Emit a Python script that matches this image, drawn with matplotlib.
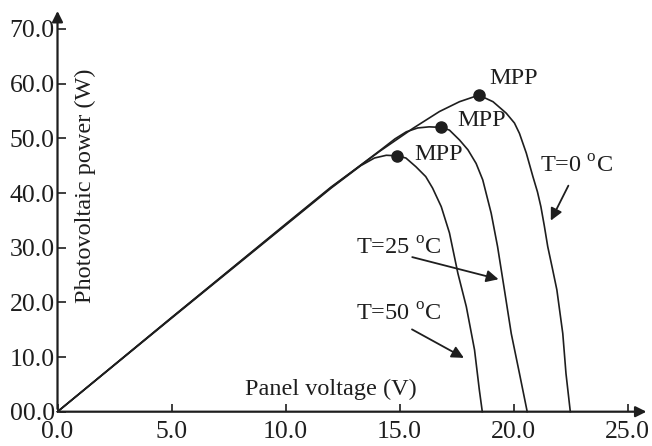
import matplotlib
matplotlib.use("Agg")
import matplotlib.pyplot as plt

plt.rcParams['font.family'] = ['Liberation Serif', 'DejaVu Serif']
plt.rcParams['mathtext.fontset'] = 'custom'
plt.rcParams['mathtext.rm'] = 'Liberation Serif'

ink = '#1e1e1e'

# P-V curves of the panel at three cell temperatures (V, W)
v_t50 = [0, 5, 10, 12, 13.3, 13.9, 14.42, 14.9, 15.28, 15.72, 16.15, 16.45, 16.83,
         17.19, 17.56, 17.93, 18.29, 18.5, 18.63]
p_t50 = [0, 17.1, 34.1, 40.9, 45.0, 46.4, 46.9, 46.8, 46.4, 44.8, 43.0, 40.9, 37.5,
         32.7, 25.3, 19.2, 11.3, 4.0, 0]

v_t25 = [0, 5, 10, 12, 14.12, 14.8, 15.3, 15.8, 16.3, 16.83, 17.19, 17.63, 18.0,
         18.36, 18.65, 19.02, 19.3, 19.6, 19.9, 20.26, 20.6]
p_t25 = [0, 17.2, 34.2, 41.0, 47.7, 49.9, 51.2, 51.9, 52.1, 52.0, 51.5, 49.7, 47.9,
         45.4, 42.4, 36.3, 30.2, 22.3, 14.3, 7.0, 0]

v_t0 = [0, 5, 10, 12, 14.12, 15.58, 16.75, 17.63, 18.48, 19.1, 19.68, 20.04, 20.26,
        20.56, 20.85, 21.05, 21.2, 21.35, 21.5, 21.7, 21.9, 22.16, 22.3, 22.49]
p_t0 = [0, 17.2, 34.3, 41.1, 47.6, 51.8, 54.9, 56.7, 57.9, 56.7, 54.6, 52.8, 50.9,
        47.3, 43.0, 40.2, 37.5, 34.0, 30.2, 26.3, 22.3, 14.3, 7.0, 0]

# maximum power points
mpp_v = [14.9, 16.83, 18.48]
mpp_p = [46.8, 52.0, 57.9]

x_ticks = [0, 5, 10, 15, 20, 25]
x_labels = ['0.0', '5.0', '10.0', '15.0', '20.0', '25.0']
y_ticks = [0, 10, 20, 30, 40, 50, 60, 70]
y_labels = ['00.0', '10.0', '20.0', '30.0', '40.0', '50.0', '60.0', '70.0']

fig = plt.figure(figsize=(6.52, 4.46), dpi=100)
ax = fig.add_axes([0.0882, 0.0769, 0.9075, 0.9047])
ax.set_xlim(0, 25.95)
ax.set_ylim(0, 73.8)

for v, p in [(v_t50, p_t50), (v_t25, p_t25), (v_t0, p_t0)]:
    ax.plot(v, p, color=ink, lw=1.2, clip_on=False)
ax.plot(mpp_v, mpp_p, 'o', color=ink, ms=8, clip_on=False)

# axes drawn as arrows
for s in ax.spines.values():
    s.set_visible(False)
ax.annotate('', xy=(1, 0), xytext=(0, 0), xycoords='axes fraction',
            arrowprops=dict(arrowstyle='-|>', color=ink, lw=1.6, mutation_scale=16))
ax.annotate('', xy=(0, 1), xytext=(0, 0), xycoords='axes fraction',
            arrowprops=dict(arrowstyle='-|>', color=ink, lw=1.6, mutation_scale=16))

ax.set_xticks(x_ticks)
ax.set_xticklabels(x_labels)
ax.set_yticks(y_ticks)
ax.set_yticklabels(y_labels)
ax.tick_params(axis='both', direction='in', length=6, width=1.2, color=ink,
               labelsize=18.5, labelcolor=ink)
ax.tick_params(axis='x', pad=7)
ax.tick_params(axis='y', pad=2)

fs = 17.5
ax.text(12.0, 4.0, 'Panel voltage (V)', fontsize=fs, color=ink, ha='center', va='center')
ax.text(1.23, 41.3, 'Photovoltaic power (W)', fontsize=fs, color=ink, rotation=90,
        ha='center', va='center')

ax.text(18.95, 61.0, 'MPP', fontsize=fs, color=ink, va='center')
ax.text(17.54, 53.2, 'MPP', fontsize=fs, color=ink, va='center')
ax.text(15.66, 47.1, 'MPP', fontsize=fs, color=ink, va='center')

ax.text(21.14, 44.9, r'T=0 $^{\rm o}$C', fontsize=fs, color=ink, va='center')
ax.text(13.1, 29.9, r'T=25 $^{\rm o}$C', fontsize=fs, color=ink, va='center')
ax.text(13.1, 17.7, r'T=50 $^{\rm o}$C', fontsize=fs, color=ink, va='center')

arrow = dict(arrowstyle='-|>', color=ink, lw=1.3, mutation_scale=18)
ax.annotate('', xy=(21.58, 34.5), xytext=(22.46, 41.8), arrowprops=arrow)
ax.annotate('', xy=(19.46, 24.1), xytext=(15.44, 28.4), arrowprops=arrow)
ax.annotate('', xy=(17.93, 9.6), xytext=(15.44, 15.3), arrowprops=arrow)

fig.savefig('out.png', dpi=100)
